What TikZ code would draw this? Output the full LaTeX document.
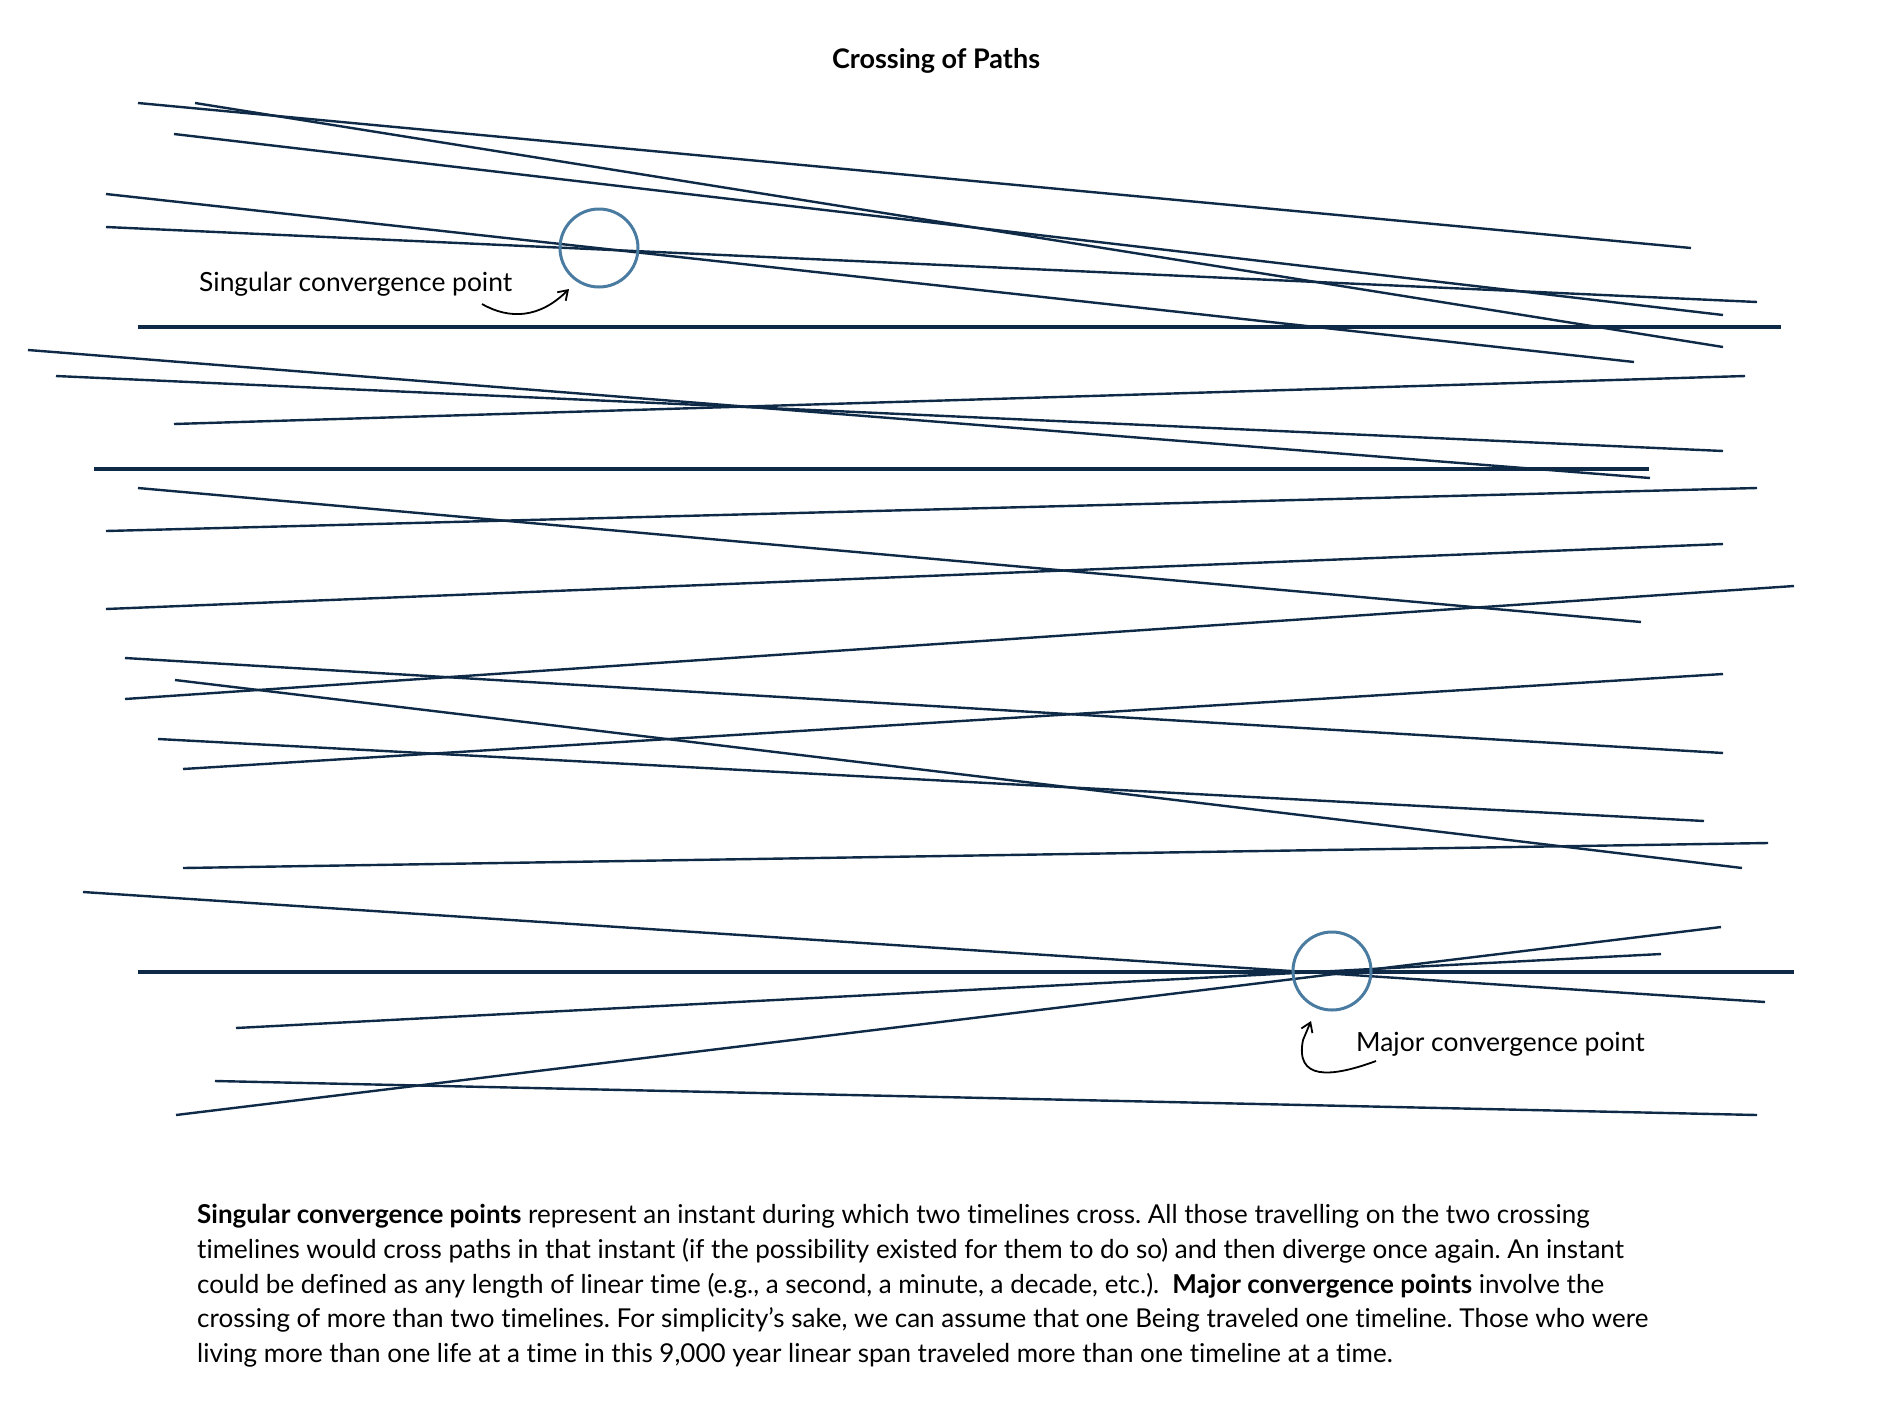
\documentclass[tikz,border=0pt]{standalone}
\usepackage{fontspec}
\setmainfont[Ligatures=NoCommon]{Lato}
\usetikzlibrary{arrows.meta}
\definecolor{navy}{HTML}{0E2A47}
\definecolor{ringblue}{HTML}{4A7CA2}
\tikzset{
  tline/.style={draw=navy, line width=2.4pt, line cap=butt},
  hline/.style={draw=navy, line width=4pt},
  ring/.style={draw=ringblue, line width=3pt, circle, minimum size=78pt, inner sep=0pt},
  hand/.style={draw=black, line width=1.8pt, -{Straight Barb[length=9pt,width=12pt]}},
  lbl/.style={font=\fontsize{26.4}{31}\selectfont, inner sep=0pt}
}
\begin{document}
\frenchspacing
\begin{tikzpicture}[x=1pt,y=-1pt]
\useasboundingbox[fill=white] (0,0) rectangle (1880,1414);
% title
\node[font=\fontsize{27}{32}\selectfont\bfseries, inner sep=0pt] (title) at (936,61) {Crossing of Paths};
% timelines
\draw[tline] (138,103) -- (1691,248);
\draw[tline] (195,103) -- (1723,347);
\draw[tline] (174,134) -- (1723,315);
\draw[tline] (106,194) -- (1634,362);
\draw[tline] (106,227) -- (1757,302);
\draw[hline] (138,327) -- (1781,327);
\draw[tline] (28,350) -- (1650,478);
\draw[tline] (56,376) -- (1723,451);
\draw[tline] (174,424) -- (1745,376);
\draw[hline] (94,469) -- (1649,469);
\draw[tline] (138,488) -- (1641,622);
\draw[tline] (106,531) -- (1757,488);
\draw[tline] (106,609) -- (1723,544);
\draw[tline] (125,699) -- (1794,586);
\draw[tline] (125,658) -- (1723,753);
\draw[tline] (175,680) -- (1742,868);
\draw[tline] (158,739) -- (1704,821);
\draw[tline] (183,769) -- (1723,674);
\draw[tline] (183,868) -- (1768,843);
\draw[tline] (83,892) -- (1765,1002);
\draw[hline] (138,972) -- (1794,972);
\draw[tline] (236,1028) -- (1661,954);
\draw[tline] (176,1115) -- (1721,927);
\draw[tline] (215,1081) -- (1757,1115);
% convergence circles
\node[ring] (sing) at (599,248) {};
\node[ring] (major) at (1332,971) {};
% labels
\node[lbl, anchor=west] (singlbl) at (199,284) {Singular convergence point};
\node[lbl, anchor=west] (majlbl) at (1356,1044) {Major convergence point};
% hand arrows
\coordinate (sa) at (482,304);
\coordinate (ma) at (1376,1061);
\draw[hand] (sa) .. controls (510,320) and (540,318) .. (569,289);
\draw[hand] (ma) .. controls (1330,1078) and (1295,1080) .. (1303,1040) -- (1311,1021);
% paragraph
\node[anchor=north west, inner sep=0pt, align=left, font=\fontsize{26}{34.8}\selectfont] (para) at (197,1204) {%
\textbf{Singular convergence points} represent an instant during which two timelines cross. All those travelling on the two crossing\\
timelines would cross paths in that instant (if the possibility existed for them to do so) and then diverge once again. An instant\\
could be defined as any length of linear time (e.g., a second, a minute, a decade, etc.).\ \ \textbf{Major convergence points} involve the\\
crossing of more than two timelines. For simplicity’s sake, we can assume that one Being traveled one timeline. Those who were\\
living more than one life at a time in this 9,000 year linear span traveled more than one timeline at a time.};
\end{tikzpicture}
\end{document}
